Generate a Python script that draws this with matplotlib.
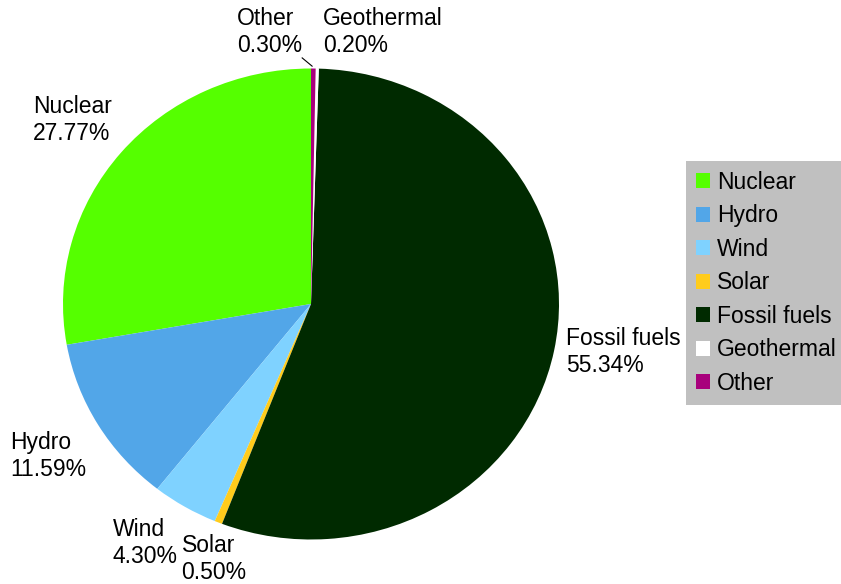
import numpy as np
import matplotlib
matplotlib.use('Agg')
import matplotlib.pyplot as plt

plt.rcParams['font.family'] = ['Liberation Sans', 'DejaVu Sans']

# Electricity generation shares (%)
sources = ['Nuclear', 'Hydro', 'Wind', 'Solar', 'Fossil fuels', 'Geothermal', 'Other']
shares = [27.77, 11.59, 4.30, 0.50, 55.34, 0.20, 0.30]
colors = ['#55ff00', '#52a6e8', '#7fd2ff', '#ffcc1c', '#002a00', '#ffffff', '#a8007c']

# label anchor points (left edge, vertical centre) in pie data units
label_pos = [(-1.121, 0.781), (-1.214, -0.645), (-0.800, -1.015), (-0.522, -1.081),
             (1.028, -0.204), (0.048, 1.157), (-0.298, 1.157)]

fig = plt.figure(figsize=(8.41, 5.84), dpi=100)
# pie is drawn slightly squashed, like the original
ax = fig.add_axes([63 / 841, 1 - 539.5 / 584, 496 / 841, 471 / 584])

wedges, _ = ax.pie(shares, colors=colors, startangle=90, counterclock=True,
                   radius=1, wedgeprops=dict(linewidth=0))
ax.set_aspect('auto')
ax.set_xlim(-1, 1)
ax.set_ylim(-1, 1)
ax.axis('off')

for name, val, (x, y) in zip(sources, shares, label_pos):
    ax.text(x, y, f'{name}\n{val:.2f}%', ha='left', va='center', fontsize=16.5,
            linespacing=1.22, color='black')

# leader line for the small "Other" slice
w = wedges[sources.index('Other')]
mid = np.deg2rad((w.theta1 + w.theta2) / 2)
ax.plot([np.cos(mid) - 0.045, np.cos(mid) - 0.005], [np.sin(mid) + 0.045, np.sin(mid) + 0.01],
        color='black', lw=0.8, clip_on=False)

leg = fig.legend(wedges, sources, loc='upper left',
                 bbox_to_anchor=(686 / 841, 1 - 161 / 584), borderaxespad=0,
                 fontsize=16.5, frameon=True, fancybox=False, facecolor='#c0c0c0',
                 edgecolor='none', framealpha=1, handlelength=0.62, handleheight=0.62,
                 handletextpad=0.3, labelspacing=0.46, borderpad=0.42)

fig.savefig('out.png', dpi=100)
